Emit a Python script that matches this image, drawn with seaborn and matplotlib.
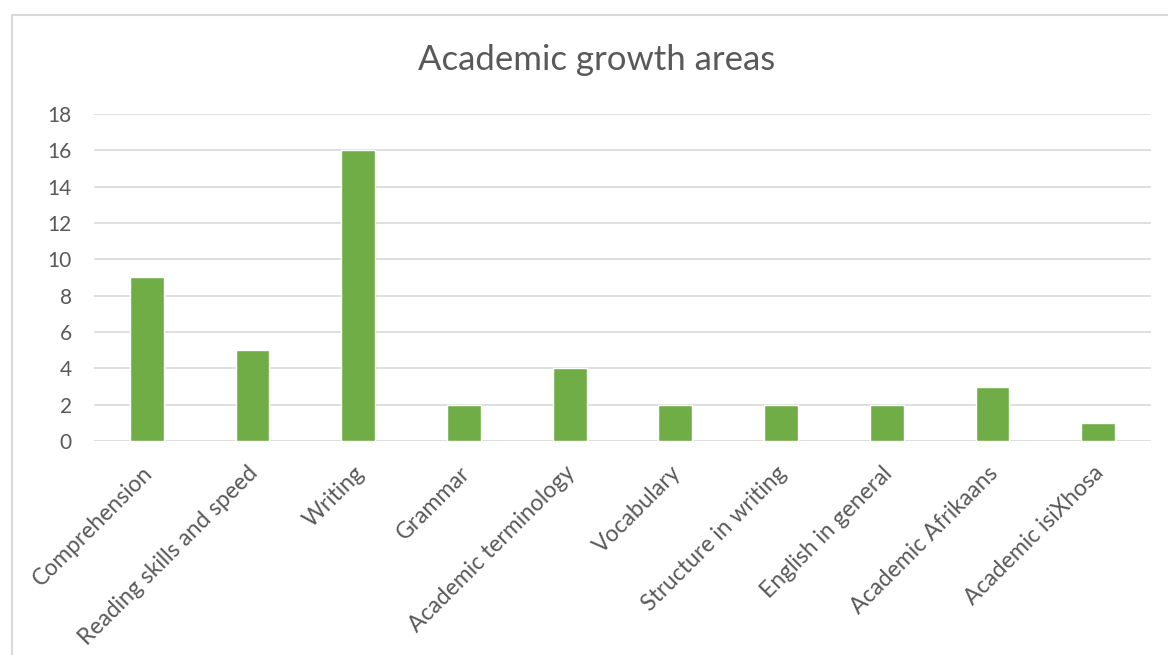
import matplotlib
matplotlib.use("Agg")
import matplotlib.pyplot as plt
import matplotlib.transforms as mtransforms
import seaborn as sns
import pandas as pd
from matplotlib.patches import Rectangle

categories = ["Comprehension", "Reading skills and speed", "Writing", "Grammar",
              "Academic terminology", "Vocabulary", "Structure in writing",
              "English in general", "Academic Afrikaans", "Academic isiXhosa"]
values = [9, 5, 16, 2, 4, 2, 2, 2, 3, 1]
yticks = [0, 2, 4, 6, 8, 10, 12, 14, 16, 18]

sns.set_theme(style="white")
plt.rcParams['font.family'] = ['Lato', 'DejaVu Sans']

df = pd.DataFrame({"cat": categories, "val": values})
fig = plt.figure(figsize=(11.68, 6.55), dpi=100)
ax = fig.add_axes([94/1168, 1-441/655, (1151-94)/1168, (441-114)/655])

sns.barplot(data=df, x="cat", y="val", color="#70AD47", width=0.32,
            saturation=1, ax=ax, zorder=3)
ax.set_ylim(0, 18)
ax.set_xlim(-0.5, len(categories) - 0.5)
ax.set_yticks(yticks)
ax.set_yticklabels([str(t) for t in yticks], fontsize=15, color="#595959")
ax.set_xticks(range(len(categories)))
ax.set_xticklabels(categories, rotation=45, ha="right", rotation_mode="anchor",
                   fontsize=16.5, color="#595959")
ax.tick_params(axis="both", length=0)
ax.tick_params(axis="y", pad=16)
ax.tick_params(axis="x", pad=14)
offset = mtransforms.ScaledTranslation(-5/100, -2/100, fig.dpi_scale_trans)
for lbl in ax.get_xticklabels():
    lbl.set_transform(lbl.get_transform() + offset)
ax.set_xlabel("")
ax.set_ylabel("")
for s in ax.spines.values():
    s.set_visible(False)
ax.grid(axis="y", color="#D9D9D9", linewidth=1.2, zorder=0)
ax.set_axisbelow(True)

fig.text(597/1168, 1-60/655, "Academic growth areas", ha="center", va="center",
         fontsize=25, color="#595959")

fig.patches.append(Rectangle((12/1168, -0.1), 1.2, 1 - 15/655 + 0.1,
                             transform=fig.transFigure, fill=False,
                             edgecolor="#D9D9D9", linewidth=1.5))

fig.savefig("out.png", dpi=100, facecolor="white")
